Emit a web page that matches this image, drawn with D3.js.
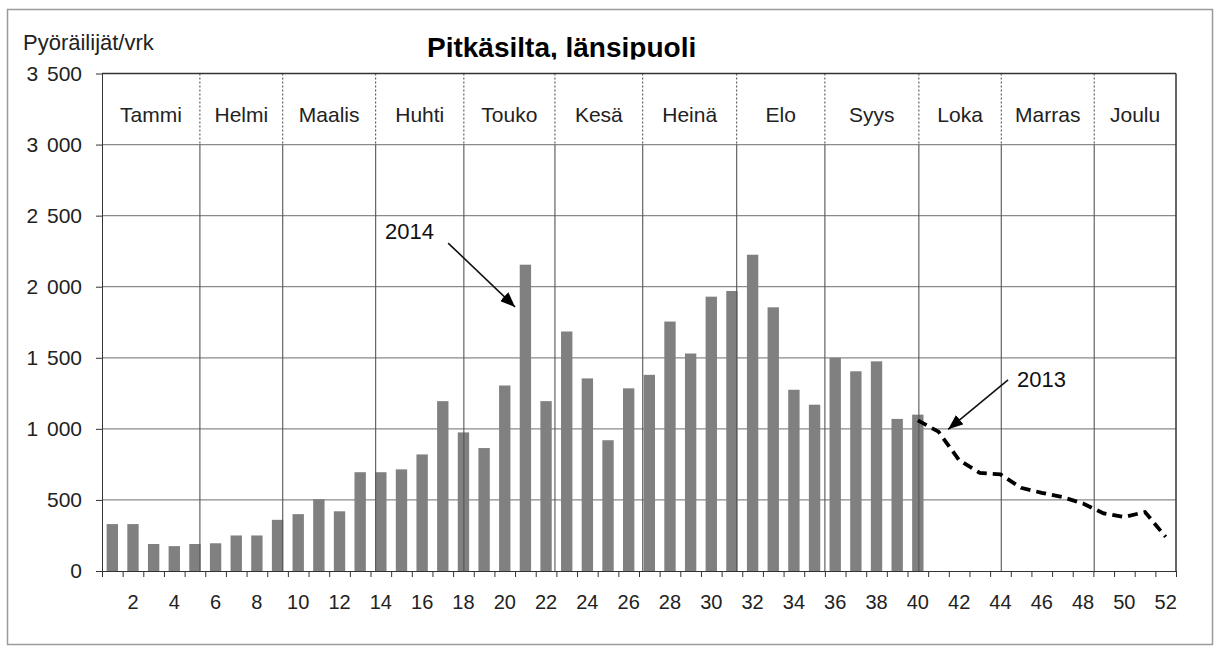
<!DOCTYPE html>
<html><head><meta charset="utf-8">
<script src="https://cdn.jsdelivr.net/npm/d3@7"></script>
<style>
html,body{margin:0;padding:0;background:#fff;}
svg{display:block;font-family:"Liberation Sans",Arial,sans-serif;}
</style></head><body>
<svg id="chart" width="1222" height="646"></svg>
<script>
// ---------------- data ----------------
const weeks = [1,2,3,4,5,6,7,8,9,10,11,12,13,14,15,16,17,18,19,20,21,22,23,24,25,26,
               27,28,29,30,31,32,33,34,35,36,37,38,39,40,41,42,43,44,45,46,47,48,49,50,51,52];
const weekTickLabels = [2,4,6,8,10,12,14,16,18,20,22,24,26,28,30,32,34,36,38,40,42,44,46,48,50,52];
const weeks2014 = [1,2,3,4,5,6,7,8,9,10,11,12,13,14,15,16,17,18,19,20,
                   21,22,23,24,25,26,27,28,29,30,31,32,33,34,35,36,37,38,39,40];
const values2014 = [330,330,190,175,190,195,250,250,360,400,505,420,695,695,715,820,1195,975,865,1305,
                    2155,1195,1685,1355,920,1285,1380,1755,1530,1930,1970,2225,1855,1275,1170,1500,1405,1475,1070,1100];
const weeks2013 = [40,41,42,43,44,45,46,47,48,49,50,51,52];
const values2013 = [1060,980,780,690,680,585,550,520,475,405,380,415,240];
const months = ["Tammi","Helmi","Maalis","Huhti","Touko","Kesä","Heinä","Elo","Syys","Loka","Marras","Joulu"];
const monthBoundaries = [4.74,8.75,13.25,17.52,21.93,26.18,30.73,35.0,39.55,43.54,48.04]; // in weeks
const yTicks = [0,500,1000,1500,2000,2500,3000,3500];
const monthBandFrom = 3000;
const title = "Pitkäsilta, länsipuoli";
const yTitle = "Pyöräilijät/vrk";
const label2014 = "2014";
const label2013 = "2013";

// ---------------- layout ----------------
const W = 1222, H = 646;
const m = {left:102, right:1176, top:73.5, bottom:571};
const svg = d3.select("#chart");

const x = d3.scaleBand().domain(weeks).range([m.left, m.right]).paddingInner(0.45).paddingOuter(0.225);
const xw = d3.scaleLinear().domain([0, weeks.length]).range([m.left, m.right]);
const y = d3.scaleLinear().domain([0, 3500]).range([m.bottom, m.top]);
const bw = x.bandwidth();

// outer frame
svg.append("rect").attr("x",7.5).attr("y",9.5).attr("width",1205).attr("height",635)
  .attr("fill","#fff").attr("stroke","#9a9a9a").attr("stroke-width",1.5);

// horizontal gridlines
svg.append("g").selectAll("line").data(yTicks.filter(v => v > 0 && v < 3500)).join("line")
  .attr("x1", m.left).attr("x2", m.right)
  .attr("y1", d => y(d)).attr("y2", d => y(d))
  .attr("stroke","#8a8a8a").attr("stroke-width",1.2);

// bars 2014
svg.append("g").selectAll("rect").data(weeks2014.map((w,i)=>({w, v:values2014[i]}))).join("rect")
  .attr("x", d => x(d.w)).attr("width", bw)
  .attr("y", d => y(d.v)).attr("height", d => y(0) - y(d.v))
  .attr("fill","#808080");

// month separators
const ms = svg.append("g");
ms.selectAll("line.solid").data(monthBoundaries).join("line").attr("class","solid")
  .attr("x1", d => xw(d)).attr("x2", d => xw(d))
  .attr("y1", y(monthBandFrom)).attr("y2", y(0))
  .attr("stroke","#555").attr("stroke-width",1.1);
ms.selectAll("line.dot").data(monthBoundaries).join("line").attr("class","dot")
  .attr("x1", d => xw(d)).attr("x2", d => xw(d))
  .attr("y1", y(3500)).attr("y2", y(monthBandFrom))
  .attr("stroke","#444").attr("stroke-width",1).attr("stroke-dasharray","2,2");

// month labels
const mb = [0, ...monthBoundaries, weeks.length];
svg.append("g").selectAll("text").data(months).join("text")
  .attr("x", (d,i) => (xw(mb[i]) + xw(mb[i+1])) / 2)
  .attr("y", 121.5)
  .attr("text-anchor","middle").attr("font-size","21px").attr("fill","#222")
  .text(d => d);

// bottom axis ticks at week boundaries
const gx = svg.append("g").attr("transform",`translate(0,${m.bottom})`)
  .call(d3.axisBottom(xw).tickValues([0, ...weeks]).tickSize(6).tickSizeOuter(0).tickFormat(""));
gx.selectAll("line,path").attr("stroke","#333");

// bottom axis labels
const gxl = svg.append("g").attr("transform",`translate(0,${m.bottom})`)
  .call(d3.axisBottom(x).tickValues(weekTickLabels).tickSize(0).tickPadding(24));
gxl.select(".domain").remove();
gxl.selectAll("text").attr("font-size","20px").attr("fill","#222").attr("font-family","Liberation Sans, Arial, sans-serif");

// left axis
const fmt = d3.formatLocale({thousands:" ", grouping:[3], decimal:",", currency:["",""]}).format(",d");
const gy = svg.append("g").attr("transform",`translate(${m.left},0)`)
  .call(d3.axisLeft(y).tickValues(yTicks).tickSize(6).tickSizeOuter(0).tickPadding(14).tickFormat(fmt));
gy.selectAll("line,path").attr("stroke","#333");
gy.selectAll("text").attr("font-size","21px").attr("fill","#222").style("word-spacing","3px")
  .attr("font-family","Liberation Sans, Arial, sans-serif");

// top and right borders of plot
svg.append("line").attr("x1",m.left).attr("x2",m.right).attr("y1",m.top).attr("y2",m.top)
  .attr("stroke","#333").attr("stroke-width",1.5);
svg.append("line").attr("x1",m.right).attr("x2",m.right).attr("y1",m.top).attr("y2",m.bottom)
  .attr("stroke","#333").attr("stroke-width",1.5);

// 2013 dashed line
const line = d3.line().x(d => x(d.w) + bw/2).y(d => y(d.v));
svg.append("path").datum(weeks2013.map((w,i)=>({w, v:values2013[i]})))
  .attr("d", line).attr("fill","none").attr("stroke","#000")
  .attr("stroke-width",3.8).attr("stroke-dasharray","10,6");

// arrow marker
svg.append("defs").append("marker").attr("id","arr")
  .attr("markerUnits","userSpaceOnUse").attr("markerWidth",16).attr("markerHeight",12)
  .attr("refX",15).attr("refY",6).attr("orient","auto")
  .append("path").attr("d","M0,0 L15,6 L0,12 z").attr("fill","#000");

function arrow(w1,v1,w2,v2){
  svg.append("line").attr("x1",xw(w1)).attr("y1",y(v1)).attr("x2",xw(w2)).attr("y2",y(v2))
    .attr("stroke","#111").attr("stroke-width",1.6).attr("marker-end","url(#arr)");
}
arrow(16.76, 2307, 20.0, 1857);
arrow(43.87, 1344, 40.97, 997);

svg.append("text").attr("x", xw(13.7)).attr("y", y(2334)).attr("font-size","22px").attr("fill","#111").text(label2014);
svg.append("text").attr("x", xw(44.3)).attr("y", y(1297)).attr("font-size","22px").attr("fill","#111").text(label2013);

// titles
svg.append("defs").append("clipPath").attr("id","tclip")
  .append("rect").attr("x",0).attr("y",0).attr("width",W).attr("height",59.5);
svg.append("text").attr("x",427).attr("y",56.7).attr("font-size","28px").attr("font-weight","bold")
  .attr("fill","#000").attr("clip-path","url(#tclip)").text(title);
svg.append("text").attr("x",23).attr("y",50).attr("font-size","22px").attr("fill","#222").text(yTitle);
</script>
</body></html>
